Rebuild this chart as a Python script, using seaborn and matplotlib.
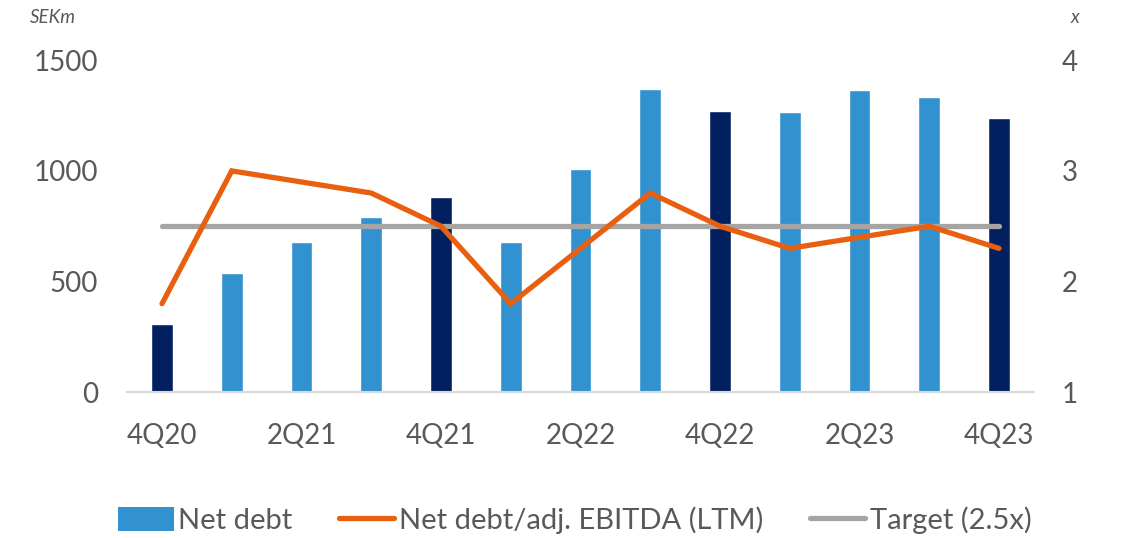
import numpy as np
import pandas as pd
import matplotlib
matplotlib.use("Agg")
import matplotlib.pyplot as plt
import seaborn as sns
from matplotlib.patches import Patch
from matplotlib.lines import Line2D

quarters = ["4Q20", "1Q21", "2Q21", "3Q21", "4Q21", "1Q22", "2Q22", "3Q22",
            "4Q22", "1Q23", "2Q23", "3Q23", "4Q23"]
net_debt = [310, 540, 680, 790, 880, 680, 1010, 1370, 1270, 1265, 1365, 1335, 1240]
leverage = [1.8, 3.0, 2.9, 2.8, 2.5, 1.8, 2.3, 2.8, 2.5, 2.3, 2.4, 2.5, 2.3]
target = [2.5] * len(quarters)
tick_labels = ["4Q20", "", "2Q21", "", "4Q21", "", "2Q22", "", "4Q22", "", "2Q23", "", "4Q23"]

LIGHT = "#3192CF"
DARK = "#022060"
ORANGE = "#E8600F"
GREY = "#A5A5A5"
TXT = "#595959"

sns.set_theme(style="white")
plt.rcParams["font.family"] = ["Lato", "DejaVu Sans"]

fig = plt.figure(figsize=(11.25, 5.38), dpi=100)
ax = fig.add_axes([0.113, 0.271, 0.806, 0.617])

colors = [DARK if q.startswith("4Q") else LIGHT for q in quarters]
df = pd.DataFrame({"q": quarters, "v": net_debt})
sns.barplot(data=df, x="q", y="v", hue="q", palette=colors, legend=False,
            width=0.315, ax=ax, saturation=1)

ax.set_xlim(-0.5, len(quarters) - 0.5)
ax.set_ylim(0, 1500)
ax.set_yticks([0, 500, 1000, 1500])
ax.set_xticks(range(len(quarters)))
ax.set_xticklabels(tick_labels)
ax.set_xlabel("")
ax.set_ylabel("")
for s in ["top", "right", "left"]:
    ax.spines[s].set_visible(False)
ax.spines["bottom"].set_color("#D9D9D9")
ax.spines["bottom"].set_linewidth(1.5)
ax.tick_params(axis="y", labelsize=20, labelcolor=TXT, pad=21, length=0)
ax.tick_params(axis="x", labelsize=20, labelcolor=TXT, pad=22, length=0)

ax2 = ax.twinx()
x = np.arange(len(quarters))
sns.lineplot(x=x, y=target, ax=ax2, color=GREY, linewidth=3.8,
             solid_capstyle="round")
sns.lineplot(x=x, y=leverage, ax=ax2, color=ORANGE, linewidth=3.8,
             solid_capstyle="round", solid_joinstyle="miter")
ax2.set_ylim(1, 4)
ax2.set_yticks([1, 2, 3, 4])
ax2.set_xlim(-0.5, len(quarters) - 0.5)
for s in ["top", "right", "left", "bottom"]:
    ax2.spines[s].set_visible(False)
ax2.tick_params(axis="y", labelsize=20, labelcolor=TXT, pad=20, length=0)
ax2.set_ylabel("")

fig.text(0.027, 0.967, "SEKm", fontsize=13.5, style="italic", color=TXT,
         ha="left", va="center")
fig.text(0.952, 0.967, "x", fontsize=13.5, style="italic", color=TXT,
         ha="left", va="center")

handles = [Patch(facecolor=LIGHT, edgecolor="none", label="Net debt"),
           Line2D([0], [0], color=ORANGE, lw=3.8, solid_capstyle="round",
                  label="Net debt/adj. EBITDA (LTM)"),
           Line2D([0], [0], color=GREY, lw=3.8, solid_capstyle="round",
                  label="Target (2.5x)")]
leg = fig.legend(handles=handles, loc="center", bbox_to_anchor=(0.511, 0.033),
                 ncol=3, frameon=False, fontsize=21, handlelength=1.9,
                 handleheight=0.85, handletextpad=0.15, columnspacing=1.6)
for t in leg.get_texts():
    t.set_color(TXT)

fig.savefig("out.png", dpi=100)
